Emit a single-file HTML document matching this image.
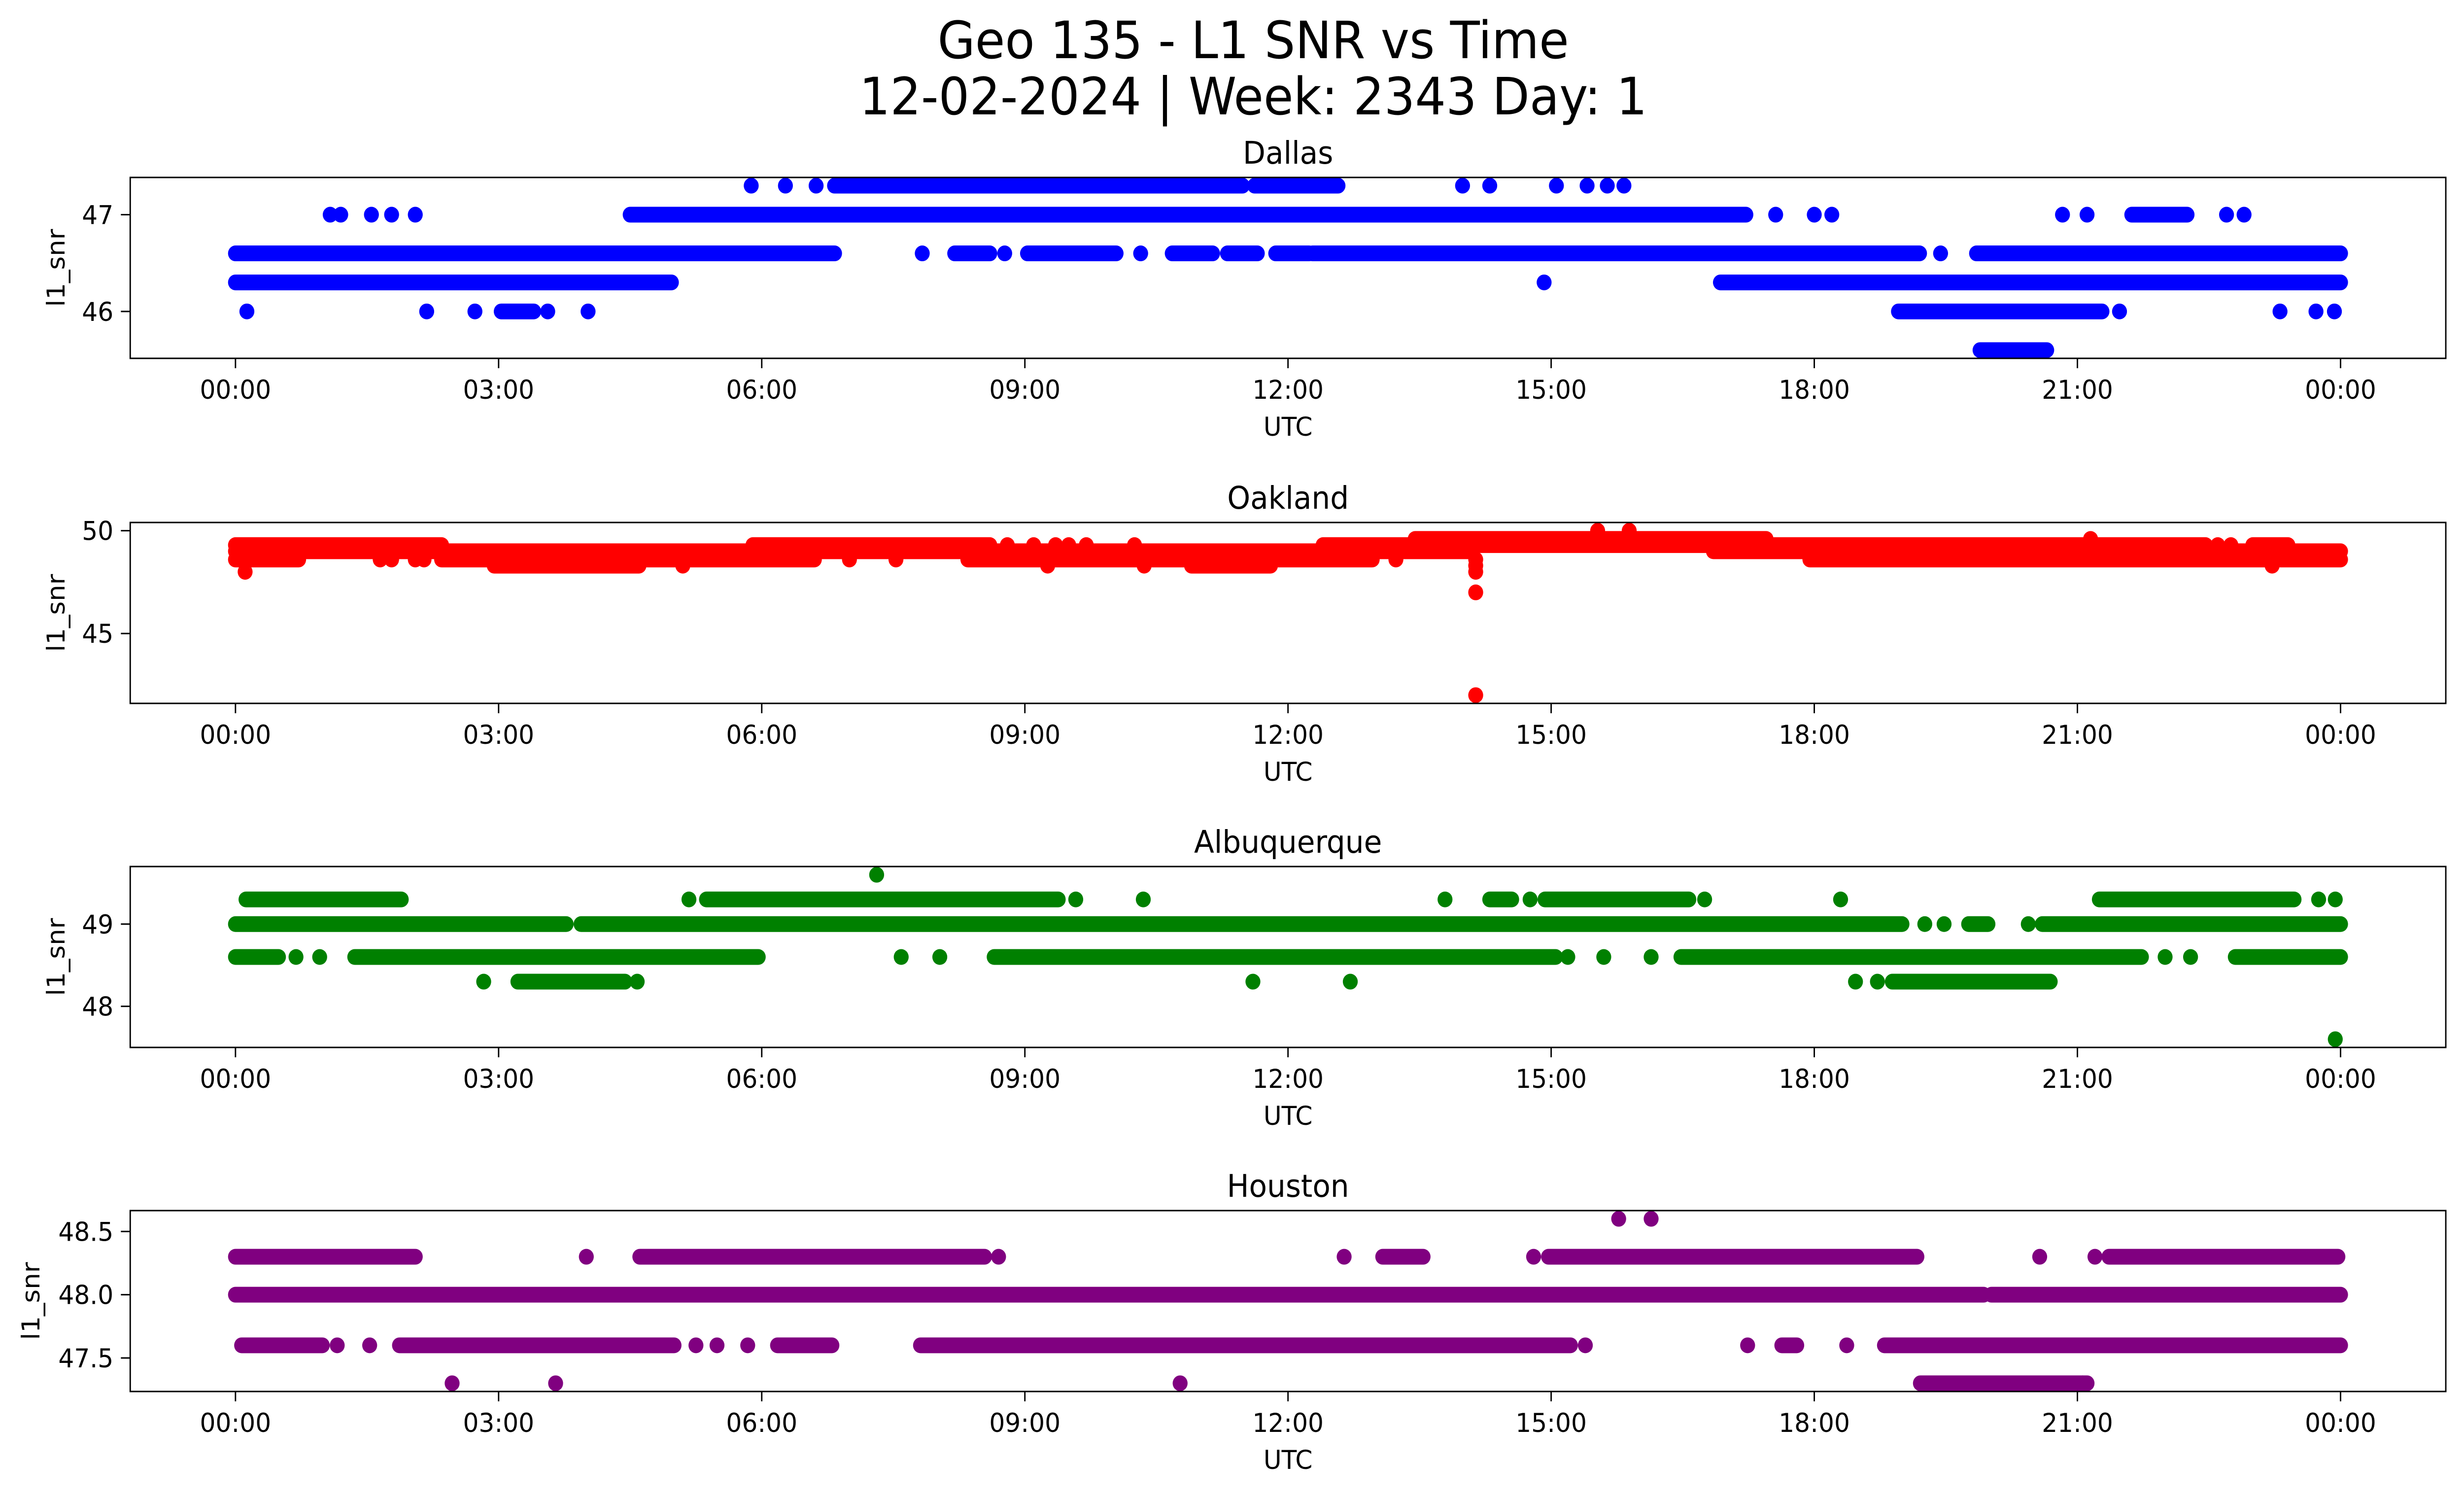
<!DOCTYPE html>
<html><head><meta charset="utf-8"><title>Geo 135 - L1 SNR vs Time</title>
<style>html,body{margin:0;padding:0;background:#fff;overflow:hidden;width:100vw;height:100vh}svg{display:block;width:100vw;height:100vh}text{font-family:"DejaVu Sans","Liberation Sans",sans-serif}</style>
</head><body>
<svg id="fig" xmlns="http://www.w3.org/2000/svg" viewBox="0 0 5279 3033" preserveAspectRatio="none">
<rect width="5279" height="3033" fill="#fff"/>
<text x="2685" y="118" font-size="104" text-anchor="middle">Geo 135 - L1 SNR vs Time</text>
<text x="2685" y="232" font-size="104" text-anchor="middle">12-02-2024 | Week: 2343 Day: 1</text>
</svg>
<script>
// ---- data (hours UTC, SNR) ----
const xTickHours = [0,3,6,9,12,15,18,21,24];
const xTickLabels = ["00:00","03:00","06:00","09:00","12:00","15:00","18:00","21:00","00:00"];
const panelNames = ["Dallas","Oakland","Albuquerque","Houston"];
const panelColors = ["#0000ff","#ff0000","#008000","#800080"];
const dallasYTicks = [46,47];
const oaklandYTicks = [45,50];
const albYTicks = [48,49];
const houstonYTicks = [47.5,48.0,48.5];
const houstonYLabels = ["47.5","48.0","48.5"];
// runs: [snr, startHour, endHour] of densely sampled points
const dallasRuns = [[47.3,6.83,11.48],[47.3,11.62,12.57],[47.0,4.5,17.22],[47.0,21.62,22.25],
 [46.6,0,6.83],[46.6,8.2,8.6],[46.6,9.03,10.04],[46.6,10.68,11.14],[46.6,11.31,11.65],[46.6,11.86,12.24],[46.6,12.28,19.2],[46.6,19.85,24],
 [46.3,0,4.97],[46.3,16.93,24],[46.0,3.03,3.4],[46.0,18.96,21.28],[45.6,19.89,20.65]];
const dallasPts = [[47.3,5.88],[47.3,6.27],[47.3,6.62],[47.3,13.99],[47.3,14.3],[47.3,15.06],[47.3,15.41],[47.3,15.64],[47.3,15.83],
 [47.0,1.08],[47.0,1.2],[47.0,1.55],[47.0,1.78],[47.0,2.05],[47.0,17.56],[47.0,18.0],[47.0,18.2],[47.0,20.83],[47.0,21.11],[47.0,22.7],[47.0,22.9],
 [46.6,7.83],[46.6,8.77],[46.6,10.32],[46.6,19.44],[46.3,14.92],
 [46.0,0.13],[46.0,2.18],[46.0,2.73],[46.0,3.56],[46.0,4.02],[46.0,21.48],[46.0,23.31],[46.0,23.72],[46.0,23.93]];
const oaklandRuns = [[49.0,0,14.05],[49.0,16.85,24],[49.3,0,2.35],[49.3,5.9,8.6],[49.3,12.4,22.46],[49.3,23.0,23.4],
 [49.6,13.45,17.45],[48.6,0,0.72],[48.6,2.35,6.6],[48.6,8.35,12.96],[48.6,17.95,24],
 [48.3,2.95,4.6],[48.3,10.9,11.8]];
const oaklandPts = [[49.3,8.8],[49.3,9.1],[49.3,9.35],[49.3,9.5],[49.3,9.7],[49.3,10.25],[49.3,22.6],[49.3,22.75],
 [49.6,21.15],[50.0,15.53],[50.0,15.89],[48.6,1.65],[48.6,1.78],[48.6,2.05],[48.6,2.15],[48.6,7.0],[48.6,7.53],[48.6,13.23],
 [48.3,5.1],[48.3,9.26],[48.3,10.36],[48.3,23.22],[48.0,0.11],[48.6,14.14],[48.3,14.14],[48.0,14.14],[47.0,14.14],[42.0,14.14]];
const albRuns = [[49.3,0.12,1.89],[49.3,5.37,9.38],[49.3,14.3,14.55],[49.3,14.93,16.57],[49.3,21.25,23.47],
 [49.0,0,3.77],[49.0,3.94,19.0],[49.0,19.76,19.98],[49.0,20.6,24],
 [48.6,0,0.49],[48.6,1.36,5.96],[48.6,8.65,15.05],[48.6,16.48,21.73],[48.6,22.8,24],
 [48.3,3.22,4.44],[48.3,18.89,20.69]];
const albPts = [[49.6,7.31],[49.3,5.17],[49.3,9.58],[49.3,10.35],[49.3,13.79],[49.3,14.76],[49.3,16.75],[49.3,18.3],[49.3,23.75],[49.3,23.94],
 [49.0,19.26],[49.0,19.48],[49.0,20.44],[48.6,0.69],[48.6,0.96],[48.6,7.59],[48.6,8.03],[48.6,15.19],[48.6,15.6],[48.6,16.14],[48.6,22.0],[48.6,22.29],
 [48.3,2.83],[48.3,4.58],[48.3,11.6],[48.3,12.71],[48.3,18.47],[48.3,18.72],[47.6,23.94]];
const houstonRuns = [[48.3,0,2.05],[48.3,4.61,8.54],[48.3,13.08,13.54],[48.3,14.97,19.17],[48.3,21.36,23.97],
 [48.0,0,19.93],[48.0,20.02,24],[47.6,0.07,0.99],[47.6,1.87,5.0],[47.6,6.18,6.8],[47.6,7.81,15.22],[47.6,17.63,17.8],[47.6,18.8,24],
 [47.3,19.21,21.11]];
const houstonPts = [[48.6,15.77],[48.6,16.14],[48.3,4.0],[48.3,8.7],[48.3,12.64],[48.3,14.8],[48.3,20.57],[48.3,21.2],
 [47.6,1.16],[47.6,1.53],[47.6,5.25],[47.6,5.49],[47.6,5.84],[47.6,15.39],[47.6,17.24],[47.6,18.37],
 [47.3,2.47],[47.3,3.65],[47.3,10.77],[47.3,21.06]];
const panelRuns = [dallasRuns, oaklandRuns, albRuns, houstonRuns];
const panelPts = [dallasPts, oaklandPts, albPts, houstonPts];
const panelYTicks = [dallasYTicks, oaklandYTicks, albYTicks, houstonYTicks];
const panelYLabels = [dallasYTicks.map(String), oaklandYTicks.map(String), albYTicks.map(String), houstonYLabels];
const panelYMin = [45.515, 41.6, 47.5, 47.235];
const panelYMax = [47.385, 50.4, 49.7, 48.665];

// ---- layout ----
const NS = "http://www.w3.org/2000/svg";
const svg = document.getElementById("fig");
const AX_L = 279, AX_R = 5240, AX_H = 367;
const TOPS = [360, 1060, 1758, 2456];
const XMIN = -1.2, XMAX = 25.2, R = 16;
function mk(tag, attrs, parent){const e=document.createElementNS(NS,tag);for(const k in attrs)e.setAttribute(k,attrs[k]);(parent||svg).appendChild(e);return e;}
function xScale(h){return AX_L + (h - XMIN) / (XMAX - XMIN) * (AX_R - AX_L);}

panelNames.forEach((name, i) => {
  const top = TOPS[i], bot = top + AX_H;
  const yScale = v => bot - (v - panelYMin[i]) / (panelYMax[i] - panelYMin[i]) * AX_H;
  const g = mk("g", {});
  
  
  const t = mk("text", {x:(AX_L+AX_R)/2, y:top-28, "font-size":63, "text-anchor":"middle"}, g);
  
  
  t.textContent = name;
  const clipId = "clip" + i;
  const cp = mk("clipPath", {id:clipId}, g);
  mk("rect", {x:AX_L, y:top, width:AX_R-AX_L, height:AX_H}, cp);
  const marks = mk("g", {"clip-path":"url(#"+clipId+")"}, g);
  
  
  panelRuns[i].forEach(r => {
    const ln = mk("line", {x1:xScale(r[1]), x2:xScale(r[2]), y1:yScale(r[0]), y2:yScale(r[0]), stroke:panelColors[i], "stroke-width":2*R, "stroke-linecap":"round"}, marks);
    
    
  });
  panelPts[i].forEach(p => {
    const c = mk("circle", {cx:xScale(p[1]), cy:yScale(p[0]), r:R, fill:panelColors[i]}, marks);
    
    
  });
  const frame = mk("rect", {x:AX_L, y:top, width:AX_R-AX_L, height:AX_H, fill:"none", stroke:"#000", "stroke-width":3}, g);
  
  
  xTickHours.forEach((h, k) => {
    const x = xScale(h);
    const tk = mk("line", {x1:x, x2:x, y1:bot, y2:bot+20, stroke:"#000", "stroke-width":3}, g);
    
    
    const tl = mk("text", {x:x, y:bot+82, "font-size":53, "text-anchor":"middle"}, g);
    
    
    tl.textContent = xTickLabels[k];
  });
  panelYTicks[i].forEach((v, k) => {
    const y = yScale(v);
    const tk = mk("line", {x1:AX_L-20, x2:AX_L, y1:y, y2:y, stroke:"#000", "stroke-width":3}, g);
    
    
    const tl = mk("text", {x:AX_L-36, y:y+19, "font-size":53, "text-anchor":"end"}, g);
    
    
    tl.textContent = panelYLabels[i][k];
  });
  const xl = mk("text", {x:(AX_L+AX_R)/2, y:bot+157, "font-size":53, "text-anchor":"middle"}, g);
  
  
  xl.textContent = "UTC";
  const lx = i === 3 ? 67 : 121, ly = top + AX_H/2;
  const yl = mk("text", {x:lx, y:ly, "font-size":53, "text-anchor":"middle", "dominant-baseline":"central", transform:"rotate(-90 "+lx+" "+ly+")"}, g);
  
  
  yl.textContent = "l1_snr";
});
</script>
</body></html>
